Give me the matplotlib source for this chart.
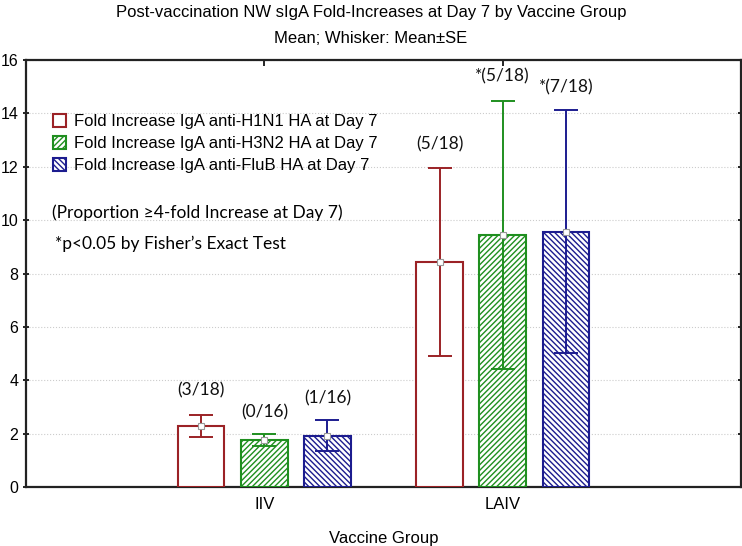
import matplotlib
matplotlib.use('Agg')
import matplotlib.pyplot as plt
from matplotlib.patches import Patch
import numpy as np

matplotlib.rcParams['hatch.linewidth'] = 1.0

groups = ['IIV', 'LAIV']
series = ['Fold Increase IgA anti-H1N1 HA at Day 7',
          'Fold Increase IgA anti-H3N2 HA at Day 7',
          'Fold Increase IgA anti-FluB HA at Day 7']
means_h1n1 = [2.29, 8.43]
means_h3n2 = [1.76, 9.44]
means_flub = [1.93, 9.57]
se_h1n1 = [0.42, 3.53]
se_h3n2 = [0.24, 5.01]
se_flub = [0.57, 4.55]
labels_h1n1 = ['(3/18)', '(5/18)']
labels_h3n2 = ['(0/16)', '*(5/18)']
labels_flub = ['(1/16)', '*(7/18)']
label_y_h1n1 = [3.63, 12.85]
label_y_h3n2 = [2.81, 15.37]
label_y_flub = [3.33, 14.99]

colors = ['#9b2226', '#1f8f1f', '#1c1c8f']
hatches = [None, '//////', '\\\\\\\\\\\\']
offsets = [-0.265, 0.0, 0.265]
width = 0.195

narrow = ['Liberation Sans Narrow', 'Liberation Sans', 'DejaVu Sans']
calib = ['Lato', 'DejaVu Sans']

fig = plt.figure(figsize=(7.42, 5.46), dpi=100)
ax = fig.add_axes([0.035, 0.108, 0.9637, 0.782])

x = np.arange(1, len(groups) + 1)
all_means = [means_h1n1, means_h3n2, means_flub]
all_se = [se_h1n1, se_h3n2, se_flub]
all_labels = [labels_h1n1, labels_h3n2, labels_flub]
all_label_y = [label_y_h1n1, label_y_h3n2, label_y_flub]

for i in range(3):
    xs = x + offsets[i]
    ax.bar(xs, all_means[i], width, facecolor='white', edgecolor=colors[i],
           hatch=hatches[i], linewidth=1.5, zorder=3)
    ax.errorbar(xs, all_means[i], yerr=all_se[i], fmt='none', ecolor=colors[i],
                elinewidth=1.4, capsize=8.3, capthick=1.4, zorder=4)
    ax.plot(xs, all_means[i], 's', ms=5, mfc='white', mec='#999999', mew=0.8, zorder=5)
    for xx, lab, ly in zip(xs, all_labels[i], all_label_y[i]):
        ax.text(xx, ly, lab, ha='center', va='center', fontsize=12.5,
                family=calib, color='#111111')

ax.set_xlim(0, 3)
ax.set_ylim(0, 16)
ax.set_yticks(np.arange(0, 17, 2))
ax.set_xticks(x)
ax.set_xticklabels(groups)
ax.yaxis.grid(True, linestyle=':', color='#cccccc', linewidth=0.8)
ax.set_axisbelow(True)
for sp in ax.spines.values():
    sp.set_linewidth(1.6)
    sp.set_color('#222222')
ax.tick_params(axis='y', which='both', direction='inout', length=5, width=1.2,
               right=True, pad=3, labelsize=11.5)
ax.tick_params(axis='x', direction='in', length=4, width=1.2, top=True,
               pad=7, labelsize=12)
for t in ax.get_xticklabels() + ax.get_yticklabels():
    t.set_family(narrow)
ax.set_xlabel('Vaccine Group', family=narrow, fontsize=12, labelpad=14)

fig.text(0.5, 0.978, 'Post-vaccination NW sIgA Fold-Increases at Day 7 by Vaccine Group',
         ha='center', va='center', family=narrow, fontsize=12)
fig.text(0.5, 0.930, 'Mean; Whisker: Mean\u00b1SE', ha='center', va='center',
         family=narrow, fontsize=12)

handles = [Patch(facecolor='white', edgecolor=colors[i], hatch=hatches[i],
                 linewidth=1.5, label=series[i]) for i in range(3)]
leg = ax.legend(handles=handles, loc='upper left', bbox_to_anchor=(0.038, 0.873),
                frameon=False, prop={'family': narrow[1:], 'size': 12},
                handlelength=0.75, handleheight=0.75, handletextpad=0.5,
                labelspacing=0.42, borderaxespad=0.0, borderpad=0.0)

ax.text(0.036, 0.643, '(Proportion \u22654-fold Increase at Day 7)', transform=ax.transAxes,
        ha='left', va='center', fontsize=12.5, family=calib)
ax.text(0.04, 0.570, '*p<0.05 by Fisher\u2019s Exact Test', transform=ax.transAxes,
        ha='left', va='center', fontsize=12.5, family=calib)

fig.savefig('out.png', dpi=100)
